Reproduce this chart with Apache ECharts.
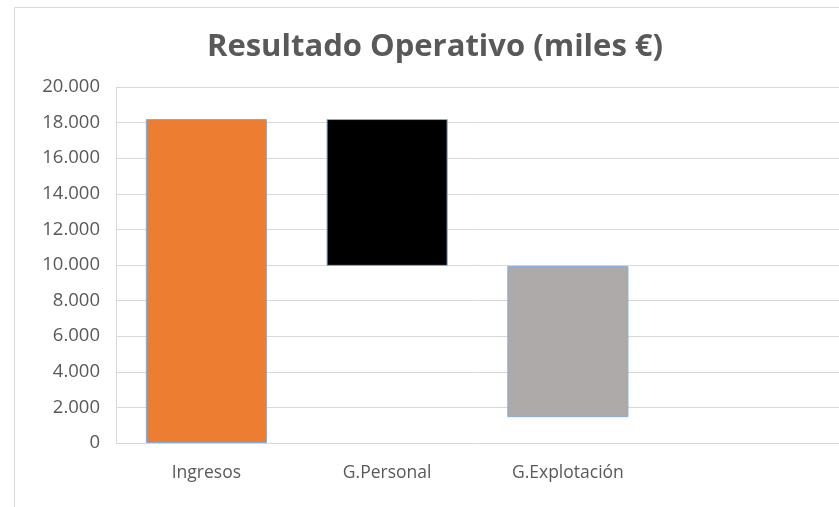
<!DOCTYPE html>
<html>
<head>
<meta charset="utf-8">
<script src="https://cdn.jsdelivr.net/npm/echarts@6/dist/echarts.min.js"></script>
<style>
  html, body { margin: 0; padding: 0; background: #fff; }
  #chart { width: 839px; height: 507px; }
</style>
</head>
<body>
<div id="chart"></div>
<script>
// categorias (la cuarta queda vacia, como en el original)
const categories = ['Ingresos', 'G.Personal', 'G.Explotación', ''];
// base invisible de la cascada
const baseValues = [0, 9950, 1450, '-'];
// altura visible de cada barra
const barValues = [18200, 8250, 8500, '-'];
const barColors = ['#ED7D31', '#000000', '#AEAAAA', '#ffffff'];
const yTicks = [0, 2000, 4000, 6000, 8000, 10000, 12000, 14000, 16000, 18000, 20000];

const font = '"Open Sans", "Noto Sans", sans-serif';
const fmt = v => String(v).replace(/\B(?=(\d{3})+(?!\d))/g, '.');

const chart = echarts.init(document.getElementById('chart'));

chart.setOption({
  animation: false,
  graphic: [
    {
      type: 'rect',
      shape: { x: 14.5, y: 7.5, width: 900, height: 600 },
      style: { fill: 'none', stroke: '#d9d9d9', lineWidth: 1 },
      silent: true
    },
    {
      type: 'text',
      x: 435,
      y: 47,
      style: {
        text: 'Resultado Operativo (miles €)',
        font: 'bold 31px ' + font,
        fill: '#595959',
        align: 'center',
        verticalAlign: 'middle'
      }
    }
  ],
  grid: { left: 116, top: 87, right: -1, bottom: 64 },
  xAxis: {
    type: 'category',
    data: categories,
    axisLine: { lineStyle: { color: '#d9d9d9' } },
    axisTick: { show: false },
    axisLabel: { color: '#595959', fontSize: 17.5, fontFamily: font, margin: 21 },
    splitLine: { show: false }
  },
  yAxis: {
    type: 'value',
    min: yTicks[0],
    max: yTicks[yTicks.length - 1],
    interval: 2000,
    axisLine: { show: true, lineStyle: { color: '#d9d9d9' } },
    axisTick: { show: false },
    axisLabel: { color: '#595959', fontSize: 18.5, fontFamily: font, margin: 16, formatter: fmt },
    splitLine: { lineStyle: { color: '#d9d9d9', width: 1 } }
  },
  series: [
    {
      type: 'bar',
      stack: 'cascada',
      data: baseValues,
      itemStyle: { color: 'transparent' },
      barCategoryGap: '33%',
      silent: true
    },
    {
      type: 'bar',
      stack: 'cascada',
      data: barValues.map((v, i) => ({
        value: v,
        itemStyle: { color: barColors[i] }
      })),
      itemStyle: { borderColor: '#86ABD8', borderWidth: 1 },
      barCategoryGap: '33%'
    }
  ]
});
</script>
</body>
</html>
